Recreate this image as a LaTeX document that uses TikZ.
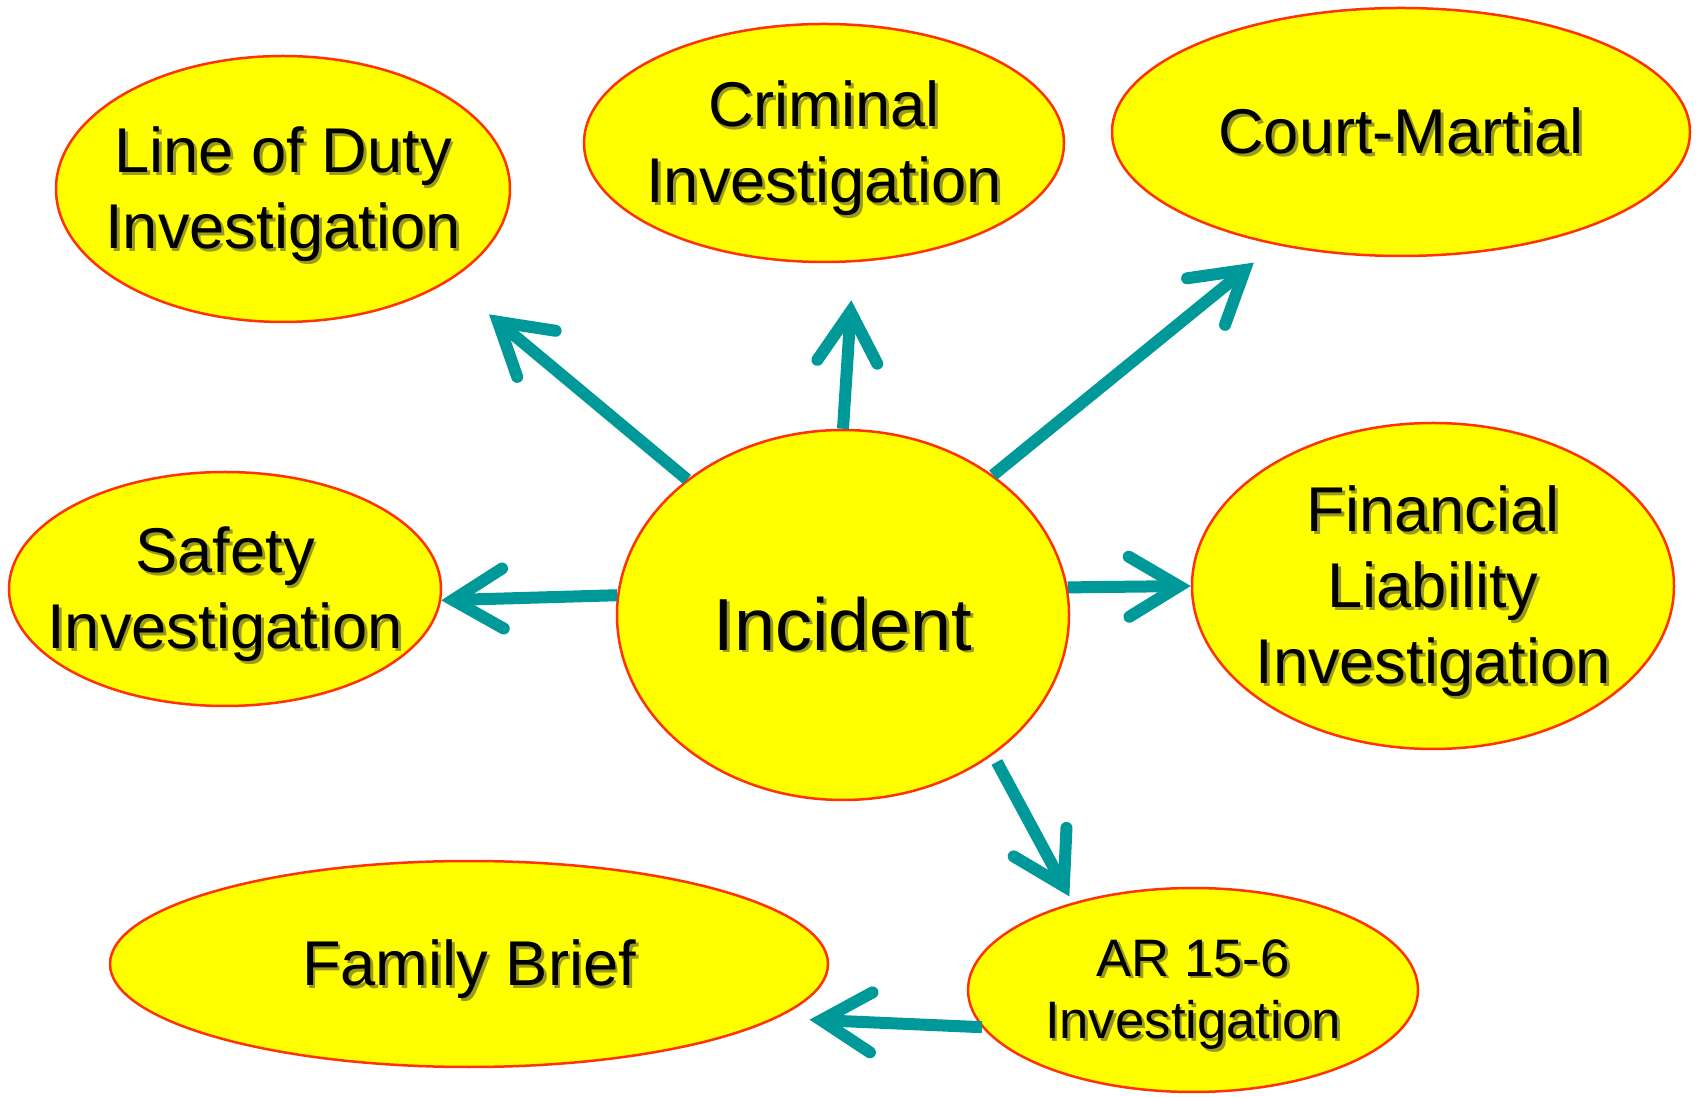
\documentclass[tikz,border=0pt]{standalone}
\usepackage{fontspec}
\setmainfont{Liberation Sans}
\usepackage{xcolor}
\usepackage{tikz}
\usetikzlibrary{arrows.meta,shapes.geometric}
\definecolor{bubblefill}{HTML}{FFFF00}
\definecolor{bubbleline}{HTML}{FF3300}
\definecolor{arrowteal}{HTML}{009999}
\definecolor{textshadow}{HTML}{9A9A1E}
% text with a soft drop shadow, boxed to zero size so the ellipse keeps its own size
\newsavebox{\shbox}
\newcommand{\shtext}[2][0pt]{%
  \sbox{\shbox}{\rlap{\kern0.28mm\raisebox{-0.28mm}{\color{textshadow}\begin{tabular}{@{}c@{}}#2\end{tabular}}}%
    \begin{tabular}{@{}c@{}}#2\end{tabular}}%
  \makebox[0pt]{\smash{\raisebox{\dimexpr(\dp\shbox-\ht\shbox)/2-0.12em-#1\relax}{\usebox{\shbox}}}}}

\begin{document}
\begin{tikzpicture}[x=0.1mm,y=-0.1mm,
  bubble/.style={ellipse,draw=bubbleline,line width=0.25mm,fill=bubblefill,inner sep=0pt,font=\fontsize{18}{21.6}\selectfont},
  flow/.style={draw=arrowteal,line width=1.2mm,-{Straight Barb[length=5mm,width=6mm,line cap=round,line join=miter]}}]
  \useasboundingbox (0,0) rectangle (1696,1097);
  \node[bubble,minimum width=45.4mm,minimum height=26.6mm] (lod) at (283,189) {\shtext{Line of Duty\\Investigation}};
  \node[bubble,minimum width=48mm,minimum height=23.8mm] (crim) at (824,143) {\shtext{Criminal\\Investigation}};
  \node[bubble,minimum width=57.8mm,minimum height=24.8mm] (court) at (1401,132) {\shtext{Court-Martial}};
  \node[bubble,minimum width=43.2mm,minimum height=23.4mm] (safe) at (225,589) {\shtext{Safety\\Investigation}};
  \node[bubble,minimum width=45.2mm,minimum height=37mm,font=\fontsize{21}{25}\selectfont] (inc) at (843,615) {\shtext[1mm]{Incident}};
  \node[bubble,minimum width=48.2mm,minimum height=32.6mm] (fin) at (1433,586) {\shtext{Financial\\Liability\\Investigation}};
  \node[bubble,minimum width=71.8mm,minimum height=20.6mm] (fam) at (469,964) {\shtext{Family Brief}};
  \node[bubble,minimum width=45mm,minimum height=20.4mm,font=\fontsize{15}{17.9}\selectfont] (ar) at (1193,990) {\shtext{AR 15-6\\Investigation}};
  % arrows out of the incident
  \draw[flow,shorten >=5.2mm] (inc.139.8) -- (lod.331);
  \draw[flow,shorten >=3.8mm] (inc.90) -- (crim.284.3);
  \draw[flow,shorten >=2.8mm] (inc.43) -- (court.222.1);
  \draw[flow] (inc.175.7) -- (safe.357.6);
  \draw[flow] (inc.7.9) -- (fin.180);
  \draw[flow,shorten <=0.8mm,shorten >=0.7mm] (inc.317) -- (ar.144.9);
  \draw[flow,shorten >=3.3mm] (ar.190) -- (fam.350.4);
\end{tikzpicture}
\end{document}
